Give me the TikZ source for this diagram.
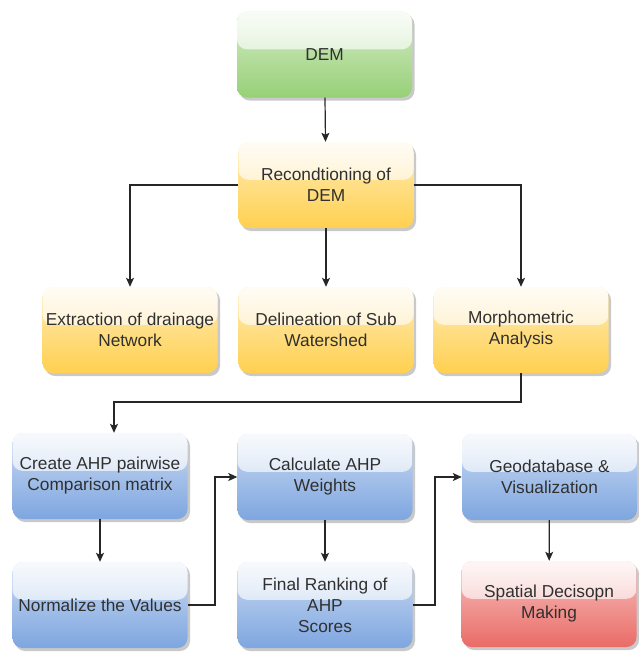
\documentclass[tikz,border=0pt]{standalone}
\usepackage{fontspec}
\setmainfont{Liberation Sans}
\usetikzlibrary{arrows.meta,shadows,calc,fadings}
\definecolor{txt}{HTML}{303030}
\definecolor{gbot}{HTML}{97D077}
\definecolor{ybot}{HTML}{FFD050}
\definecolor{bbot}{HTML}{7EA6E0}
\definecolor{rbot}{HTML}{EA6B66}
\tikzfading[name=glassfade, top color=transparent!15, bottom color=transparent!65]
\tikzset{
  box/.style={rounded corners=10pt, minimum width=175pt, minimum height=86pt,
    align=center, text=txt, font=\fontsize{17.3}{21}\selectfont, inner sep=2pt,
    drop shadow={shadow xshift=2.5pt, shadow yshift=-3pt, opacity=0.3, fill=black!70},
    path picture={\fill[white, path fading=glassfade, fit fading=true]
      (path picture bounding box.north west) rectangle
      ($(path picture bounding box.north east)!0.44!(path picture bounding box.south east)$);}},
  cbox/.style={box, top color=#1!40!white, bottom color=#1},
  conn/.style={line width=1.2pt, draw=black!85, -{Stealth[length=9pt,width=8pt,inset=2pt]}},
}
\begin{document}
\begin{tikzpicture}[x=1pt,y=-1pt]
\useasboundingbox (0,0) rectangle (639,653);
\node[cbox=gbot] (dem) at (324.5,54.5) {DEM};
\node[cbox=ybot] (rec) at (326,185) {Recondtioning of\\DEM};
\node[cbox=ybot] (ext) at (130,330) {Extraction of drainage\\Network};
\node[cbox=ybot] (del) at (326,330) {Delineation of Sub\\Watershed};
\node[cbox=ybot] (mor) at (521,330) {Morphometric\\Analysis};
\node[cbox=bbot] (cre) at (100,476) {Create AHP pairwise\\Comparison matrix};
\node[cbox=bbot] (cal) at (325,477) {Calculate AHP\\Weights};
\node[cbox=bbot] (geo) at (549.5,477) {Geodatabase \&\\Visualization};
\node[cbox=bbot] (nor) at (100,605) {Normalize the Values};
\node[cbox=bbot] (fin) at (325,605) {Final Ranking of\\AHP\\Scores};
\node[cbox=rbot] (spa) at (549,604) {Spatial Decisopn\\Making};
\coordinate (m1) at (521,402);
\coordinate (m2) at (114,402);
\coordinate (n1) at (215,605);
\coordinate (f1) at (435,605);
\draw[conn] (dem) -- (rec);
\draw[conn] (rec.west) -| (ext.north);
\draw[conn] (rec) -- (del);
\draw[conn] (rec.east) -| (mor.north);
\draw[conn] (mor.south) -- (m1) -- (m2) -- (m2 |- cre.north);
\draw[conn] (cre) -- (nor);
\draw[conn] (nor.east) -- (n1) |- (cal.west);
\draw[conn] (cal) -- (fin);
\draw[conn] (fin.east) -- (f1) |- (geo.west);
\draw[conn] (geo) -- (spa);
\end{tikzpicture}
\end{document}
